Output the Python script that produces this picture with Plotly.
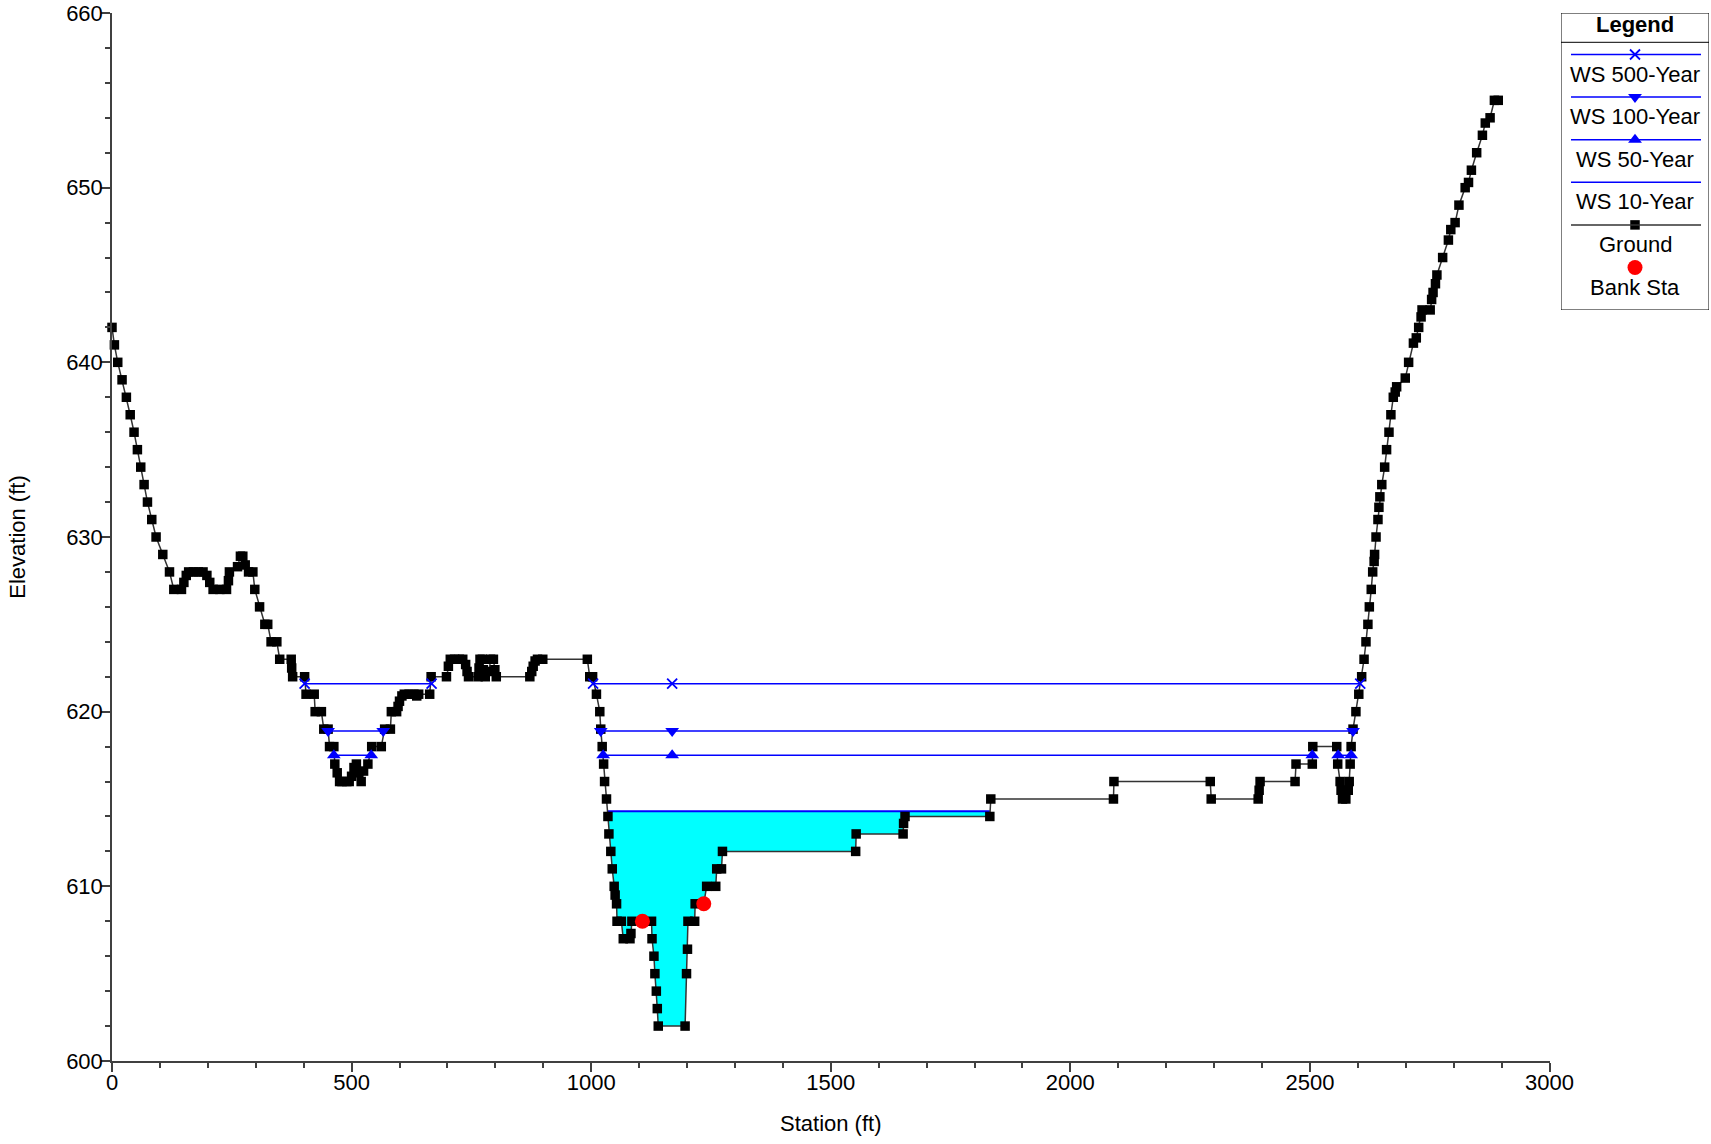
import plotly.graph_objects as go

# ---------------- data ----------------
ground_sta = [0, 5, 12, 21, 30, 38, 46, 53, 60, 67, 74, 83, 92, 106, 120, 129,
              145, 150, 155, 160, 170, 180, 190, 198, 204, 211, 225, 239, 243, 245,
              262, 268, 273, 278, 285, 294, 298, 308, 319, 325, 332, 344, 350, 374,
              375, 377, 402, 405, 422, 424, 437, 442, 451, 454, 463, 465, 470, 475,
              480, 490, 495, 500, 505, 510, 515, 520, 525, 534, 542, 562, 569, 581,
              583, 594, 597, 600, 605, 610, 620, 630, 636, 640, 663, 666, 698, 702,
              706, 715, 725, 732, 738, 741, 744, 764, 766, 768, 773, 775, 779, 787,
              790, 796, 799, 802, 872, 876, 879, 883, 888, 899, 992, 997, 1003, 1011,
              1018, 1020, 1023, 1026, 1028, 1032, 1035, 1037, 1041, 1044, 1048, 1050,
              1053, 1054, 1063, 1067, 1081, 1083, 1085, 1107, 1126, 1127, 1131, 1133,
              1136, 1138, 1140, 1196, 1199, 1201, 1202, 1216, 1217, 1235, 1241, 1260,
              1262, 1272, 1274, 1552, 1553, 1651, 1652, 1655, 1832, 1834, 2090, 2091,
              2292, 2294, 2392, 2394, 2396, 2469, 2471, 2505, 2506, 2556, 2558, 2563,
              2565, 2568, 2575, 2580, 2582, 2584, 2586, 2590, 2596, 2602, 2608, 2613,
              2617, 2621, 2624, 2628, 2631, 2634, 2635, 2638, 2642, 2644, 2646, 2650,
              2656, 2660, 2665, 2669, 2674, 2678, 2681, 2699, 2706, 2716, 2722, 2727,
              2732, 2734, 2751, 2754, 2757, 2762, 2765, 2777, 2789, 2794, 2803, 2811,
              2824, 2831, 2837, 2848, 2860, 2866, 2876, 2885, 2893]
ground_elev = [642, 641, 640, 639, 638, 637, 636, 635, 634, 633, 632, 631, 630, 629, 628, 627,
               627, 627.4, 627.8, 628, 628, 628, 628, 627.8, 627.4, 627, 627, 627, 627.5, 628,
               628.3, 628.9, 628.9, 628.4, 628, 628, 627, 626, 625, 625, 624, 624, 623, 623,
               622.5, 622, 622, 621, 621, 620, 620, 619, 619, 618, 618, 617, 616.5, 616,
               616, 616, 616, 616.3, 616.8, 617, 616.5, 616, 616.6, 617, 618, 618, 619, 619,
               620, 620, 620.3, 620.6, 620.9, 621, 621, 621, 620.9, 621, 621, 622, 622, 622.6,
               623, 623, 623, 623, 622.7, 622.3, 622, 622, 622.5, 623, 623, 622.4, 622, 622.3,
               623, 623, 622.4, 622, 622, 622.3, 622.6, 622.9, 623, 623, 623, 622, 622, 621,
               620, 619, 618, 617, 616, 615, 614, 613, 612, 611, 610, 609.5,
               609, 608, 608, 607, 607, 607.3, 608, 608, 608, 607, 606, 605,
               604, 603, 602, 602, 605, 606.4, 608, 608, 609, 609, 610, 610,
               611, 611, 612, 612, 613, 613, 613.6, 614, 614, 615, 615, 616,
               616, 615, 615, 615.5, 616, 616, 617, 617, 618, 618, 617, 616,
               615.5, 615, 615, 615.5, 616, 617, 618, 619, 620, 621, 622, 623,
               624, 625, 626, 627, 628, 628.6, 629, 630, 631, 631.7, 632.3, 633,
               634, 635, 636, 637, 638, 638.3, 638.6, 639.1, 640, 641.1, 641.4, 642,
               642.6, 643, 643, 643.6, 644, 644.5, 645, 646, 647, 647.6, 648, 649,
               650, 650.3, 651, 652, 653, 653.7, 654, 655, 655]

bank_sta = [1107, 1235]
bank_elev = [608, 609]

ws500_sta = [402, 667, None, 1004, 1169, 2605]
ws500_elev = 621.6
ws100_sta = [451, 566, None, 1020, 1169, 2590]
ws100_elev = 618.9
ws50_sta = [463, 541, None, 1025, 1169, 2505, None, 2559, 2586]
ws50_elev = 617.5
ws10_sta = [1034, 1832]
ws10_elev = 614.3

x_ticks = [0, 500, 1000, 1500, 2000, 2500, 3000]
y_ticks = [600, 610, 620, 630, 640, 650, 660]

# ---------------- styles ----------------
FONT = "Liberation Sans, Arial, sans-serif"
BLUE = "#0000FF"
AX = "#404040"
FS = 22

ws_styles = {
    "WS 500-Year": dict(symbol="x-thin-open", size=10, line=dict(color=BLUE, width=1.8), color=BLUE),
    "WS 100-Year": dict(symbol="triangle-down", size=12, color=BLUE, line=dict(width=0)),
    "WS 50-Year": dict(symbol="triangle-up", size=12, color=BLUE, line=dict(width=0)),
}
ground_marker = dict(symbol="square", size=9.5, color="black", line=dict(width=0))
ground_line = dict(color="#333333", width=1.5)
bank_marker = dict(symbol="circle", size=15, color="#FF0000", line=dict(width=0))


def ws_y(stations, level):
    return [None if s is None else level for s in stations]


fig = go.Figure()

# wetted area under WS 10-Year
L, R = ws10_sta
inner = [(s, e) for s, e in zip(ground_sta, ground_elev) if L <= s <= R]
poly_x = [L] + [p[0] for p in inner] + [R, L]
poly_y = [ws10_elev] + [p[1] for p in inner] + [ws10_elev, ws10_elev]
fig.add_trace(go.Scatter(x=poly_x, y=poly_y, mode="lines", fill="toself",
                         fillcolor="#00FFFF", line=dict(width=0), hoverinfo="skip",
                         showlegend=False))
fig.add_trace(go.Scatter(x=ws10_sta, y=ws_y(ws10_sta, ws10_elev), mode="lines",
                         line=dict(color=BLUE, width=2), name="WS 10-Year", showlegend=False))

# ground
fig.add_trace(go.Scatter(x=ground_sta, y=ground_elev, mode="lines+markers",
                         line=ground_line, marker=ground_marker, name="Ground",
                         cliponaxis=False, showlegend=False))

# water surfaces
for name, sta, lev in [("WS 500-Year", ws500_sta, ws500_elev),
                       ("WS 100-Year", ws100_sta, ws100_elev),
                       ("WS 50-Year", ws50_sta, ws50_elev)]:
    fig.add_trace(go.Scatter(x=sta, y=ws_y(sta, lev), mode="lines+markers",
                             line=dict(color=BLUE, width=1.5), marker=ws_styles[name],
                             name=name, connectgaps=False, cliponaxis=False, showlegend=False))

# bank stations
fig.add_trace(go.Scatter(x=bank_sta, y=bank_elev, mode="markers", marker=bank_marker,
                         name="Bank Sta", cliponaxis=False, showlegend=False))

# ---------------- custom legend (boxed, HEC-RAS style) ----------------
LX0, LX1, LY0, LY1 = 1561, 1709, 13, 310   # legend axis units = pixels of the box
legend_entries = [
    ("WS 500-Year", dict(color=BLUE, width=1.5), ws_styles["WS 500-Year"]),
    ("WS 100-Year", dict(color=BLUE, width=1.5), ws_styles["WS 100-Year"]),
    ("WS 50-Year", dict(color=BLUE, width=1.5), ws_styles["WS 50-Year"]),
    ("WS 10-Year", dict(color=BLUE, width=1.5), None),
    ("Ground", ground_line, ground_marker),
    ("Bank Sta", None, bank_marker),
]
shapes = [
    dict(type="rect", xref="x2", yref="y2", x0=LX0, x1=LX1, y0=LY0, y1=LY1,
         line=dict(color="black", width=1)),
    dict(type="line", xref="x2", yref="y2", x0=LX0, x1=LX1, y0=42.3, y1=42.3,
         line=dict(color="black", width=1)),
]
annotations = [dict(xref="x2", yref="y2", x=(LX0 + LX1) / 2, y=24, text="<b>Legend</b>",
                    showarrow=False, font=dict(family=FONT, size=FS, color="black"))]
cx = (LX0 + LX1) / 2
for i, (name, ln, mk) in enumerate(legend_entries):
    ly = 54.5 + 42.6 * i
    if ln is not None:
        shapes.append(dict(type="line", xref="x2", yref="y2", x0=LX0 + 10, x1=LX1 - 8,
                           y0=ly, y1=ly, line=ln))
    if mk is not None:
        fig.add_trace(go.Scatter(x=[cx], y=[ly], mode="markers", marker=mk, xaxis="x2",
                                 yaxis="y2", showlegend=False, hoverinfo="skip",
                                 cliponaxis=False))
    annotations.append(dict(xref="x2", yref="y2", x=cx, y=ly + 19.5, text=name,
                            showarrow=False, font=dict(family=FONT, size=FS, color="black")))

W, H = 1711, 1144
ML, MR, MT, MB = 112, 0, 13, 83
pw = W - ML - MR
ph = H - MT - MB
plot_right = 1549.5

fig.update_layout(
    width=W, height=H, autosize=False,
    margin=dict(l=ML, r=MR, t=MT, b=MB, pad=0, autoexpand=False),
    paper_bgcolor="white", plot_bgcolor="white",
    font=dict(family=FONT, size=FS, color="black"),
    showlegend=False,
    shapes=shapes, annotations=annotations,
    xaxis=dict(domain=[0, (plot_right - ML) / pw], range=[0, 3000], automargin=False,
               tickmode="array", tickvals=x_ticks, ticktext=[str(v) for v in x_ticks],
               showline=True, linecolor=AX, linewidth=1.5, mirror=False,
               ticks="outside", ticklen=9, tickwidth=1.5, tickcolor=AX,
               ticklabelstandoff=-8,
               minor=dict(dtick=100, tick0=0, ticks="outside", ticklen=5, tickwidth=1.5,
                          tickcolor=AX, showgrid=False),
               showgrid=False, zeroline=False,
               tickfont=dict(size=FS, family=FONT, color="black"),
               title=dict(text="Station (ft)", standoff=21,
                          font=dict(size=FS, family=FONT, color="black"))),
    yaxis=dict(domain=[0, 1], range=[600, 660], automargin=False,
               tickmode="array", tickvals=y_ticks, ticktext=[str(v) for v in y_ticks],
               showline=True, linecolor=AX, linewidth=1.5, mirror=False,
               ticks="outside", ticklen=9, tickwidth=1.5, tickcolor=AX,
               ticklabelstandoff=-6,
               minor=dict(dtick=2, tick0=600, ticks="outside", ticklen=5, tickwidth=1.5,
                          tickcolor=AX, showgrid=False),
               showgrid=False, zeroline=False,
               tickfont=dict(size=FS, family=FONT, color="black"),
               title=dict(text="Elevation (ft)", standoff=34,
                          font=dict(size=FS, family=FONT, color="black"))),
    xaxis2=dict(domain=[(LX0 - ML) / pw, (LX1 - ML) / pw], range=[LX0, LX1],
                visible=False, anchor="y2", fixedrange=True, automargin=False),
    yaxis2=dict(domain=[1 - (LY1 - MT) / ph, 1.0], range=[LY1, LY0],
                visible=False, anchor="x2", fixedrange=True, automargin=False),
)

fig.write_html("out.html", config={"displayModeBar": False},
               post_script="document.body.style.margin='0';document.body.style.overflow='hidden';")
